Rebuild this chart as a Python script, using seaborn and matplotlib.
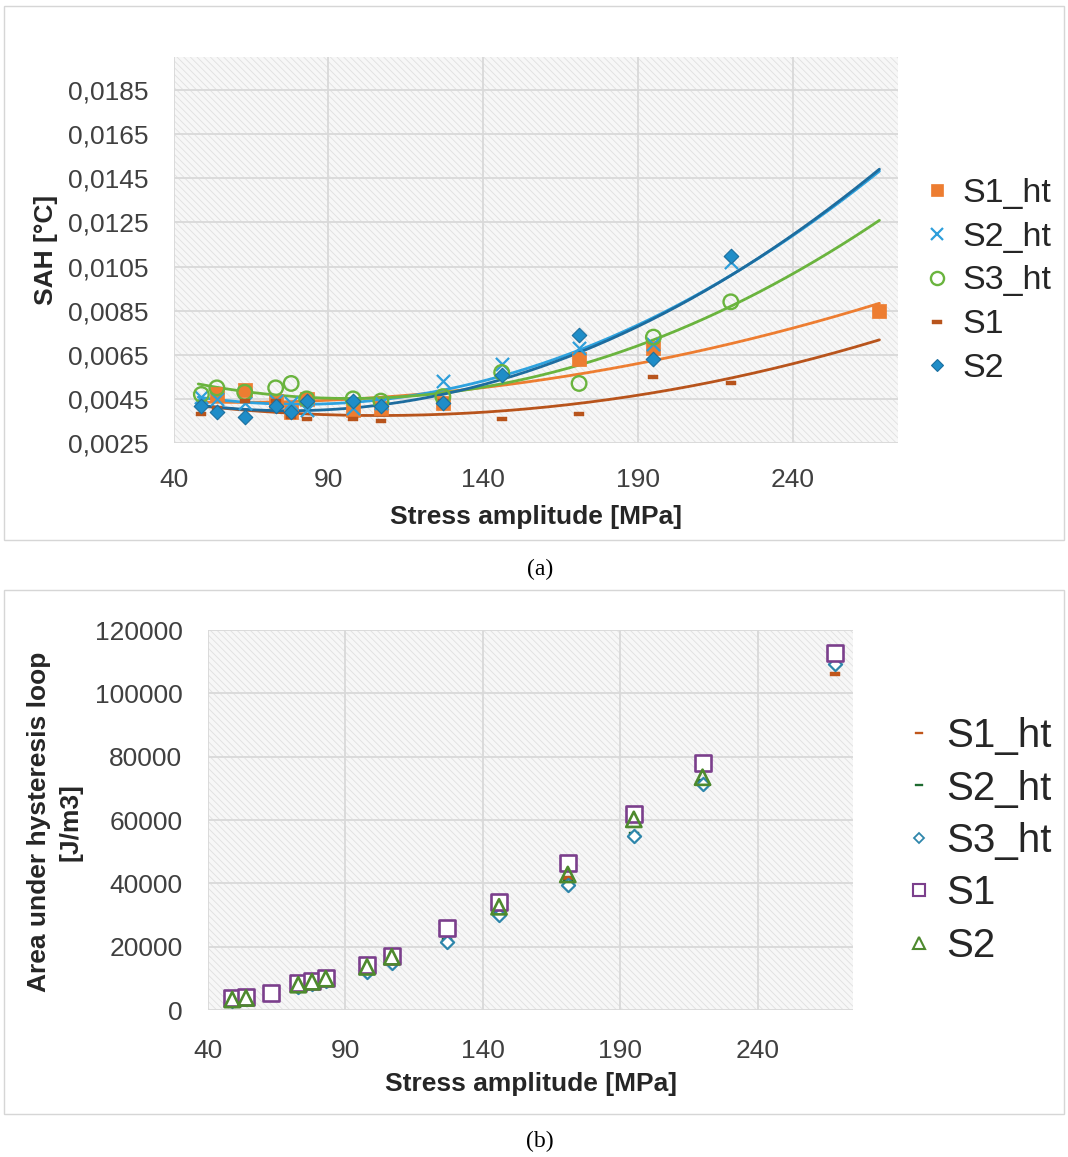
import numpy as np
import pandas as pd
import seaborn as sns
import matplotlib.pyplot as plt
from matplotlib.patches import Rectangle
from matplotlib.lines import Line2D

# ---- (a) SAH vs stress amplitude ----
a_s1ht_x = [54, 63, 73, 78, 83, 98, 107, 127, 171, 195, 268]
a_s1ht_y = [0.0047, 0.0049, 0.0044, 0.0039, 0.0045, 0.0040, 0.0041, 0.0043, 0.0063, 0.0068, 0.0085]
a_s2ht_x = [49, 54, 63, 73, 78, 83, 98, 107, 127, 146, 171, 195, 220]
a_s2ht_y = [0.0046, 0.0045, 0.0043, 0.0044, 0.0043, 0.0040, 0.0041, 0.0043, 0.0053, 0.0061, 0.0068, 0.0070, 0.0107]
a_s3ht_x = [49, 54, 63, 73, 78, 83, 98, 107, 127, 146, 171, 195, 220]
a_s3ht_y = [0.0047, 0.0050, 0.0048, 0.0050, 0.0052, 0.0045, 0.0045, 0.0044, 0.0046, 0.0057, 0.0052, 0.0073, 0.0089]
a_s1_x = [49, 54, 63, 73, 78, 83, 98, 107, 127, 146, 171, 195, 220]
a_s1_y = [0.0038, 0.0041, 0.0044, 0.0044, 0.0037, 0.0036, 0.0036, 0.0035, 0.0044, 0.0036, 0.0038, 0.0055, 0.0052]
a_s2_x = [49, 54, 63, 73, 78, 83, 98, 107, 127, 146, 171, 195, 220]
a_s2_y = [0.0042, 0.0039, 0.0037, 0.0042, 0.0039, 0.0044, 0.0044, 0.0042, 0.0043, 0.0056, 0.0074, 0.0063, 0.0110]

# ---- (b) area under hysteresis loop ----
b_s1ht_x = [98, 107, 127, 146, 171, 195, 220, 268]
b_s1ht_y = [12300, 15200, 21800, 30500, 41700, 54500, 72000, 106000]
b_s2ht_x = [73, 78, 83, 98, 107, 127, 146, 171, 195, 220]
b_s2ht_y = [7600, 8500, 9500, 12600, 15500, 22000, 30800, 40500, 55500, 72300]
b_s3ht_x = [49, 54, 73, 78, 83, 98, 107, 127, 146, 171, 195, 220, 268]
b_s3ht_y = [3000, 3500, 7300, 8200, 9200, 12000, 14900, 21500, 30100, 39600, 54800, 71500, 109200]
b_s1_x = [49, 54, 63, 73, 78, 83, 98, 107, 127, 146, 171, 195, 220, 268]
b_s1_y = [3700, 4200, 5500, 8400, 9200, 10000, 14200, 17100, 26000, 34000, 46500, 62000, 78000, 112700]
b_s2_x = [49, 54, 73, 78, 83, 98, 107, 146, 171, 195, 220]
b_s2_y = [3300, 3800, 8000, 8900, 9900, 13600, 16800, 32600, 42800, 60200, 73500]

a_ticks_y = [0.0025, 0.0045, 0.0065, 0.0085, 0.0105, 0.0125, 0.0145, 0.0165, 0.0185]
b_ticks_y = [0, 20000, 40000, 60000, 80000, 100000, 120000]
ticks_x = [40, 90, 140, 190, 240]

W, H = 1068, 1157
DASH = [(-1, -0.35), (1, -0.35), (1, 0.35), (-1, 0.35), (-1, -0.35)]

sns.set_theme(style="white")
plt.rcParams['font.family'] = ['Liberation Sans', 'DejaVu Sans']
plt.rcParams['hatch.linewidth'] = 0.6

fig = plt.figure(figsize=(W / 100, H / 100), dpi=100)


def px_axes(left, top, right, bottom):
    return fig.add_axes([left / W, 1 - bottom / H, (right - left) / W, (bottom - top) / H])


def style_axes(ax):
    ax.add_patch(Rectangle((0, 0), 1, 1, transform=ax.transAxes, facecolor='#f7f7f7',
                           edgecolor='#e0e0e0', hatch='\\' * 5, lw=0, zorder=0))
    ax.grid(True, color='#d9d9d9', lw=1.3, zorder=1)
    ax.set_axisbelow(True)
    for s in ax.spines.values():
        s.set_visible(False)
    ax.tick_params(length=0, labelsize=19, colors='#404040', pad=18)
    ax.set_xlabel('')
    ax.set_ylabel('')


def scatter(ax, x, y, marker, size, face, edge, lw, label):
    sns.scatterplot(x=x, y=y, marker=marker, s=size, color=edge, facecolor=face,
                    edgecolor=edge, linewidth=lw, ax=ax, label=label, zorder=3, legend=False)


# panel frames
for top, bottom in [(6, 540), (590, 1114)]:
    fig.add_artist(Rectangle((4 / W, 1 - bottom / H), 1060 / W, (bottom - top) / H,
                             transform=fig.transFigure, fill=False, edgecolor='#d6d6d6', lw=1))

# ---------- (a) ----------
ax1 = px_axes(173.5, 57, 898, 443)
style_axes(ax1)

a_series = [
    ('S1_ht', a_s1ht_x, a_s1ht_y, 's', 100, '#ED7D31', '#ED7D31', 0.5, '#ED7D31'),
    ('S2_ht', a_s2ht_x, a_s2ht_y, 'x', 90, '#2E9FDB', '#2E9FDB', 1.6, '#2EA2DE'),
    ('S3_ht', a_s3ht_x, a_s3ht_y, 'o', 110, 'none', '#6AB43E', 1.7, '#6AB43E'),
    ('S1', a_s1_x, a_s1_y, DASH, 55, '#B8541C', '#B8541C', 0.3, '#B8541C'),
    ('S2', a_s2_x, a_s2_y, 'D', 55, '#1F8DC8', '#1B6F9F', 0.8, '#1D6C9E'),
]
xs = np.linspace(48, 268, 200)
for name, x, y, m, s, fc, ec, lw, lc in a_series:
    scatter(ax1, x, y, m, s, fc, ec, lw, name)
    coef = np.polyfit(x, y, 2)
    sns.lineplot(x=xs, y=np.polyval(coef, xs), color=lc, lw=2, ax=ax1, zorder=2,
                 legend=False, estimator=None)

ax1.set_xlim(40, 274)
ax1.set_ylim(0.0025, 0.0200)
ax1.set_xticks(ticks_x)
ax1.set_yticks(a_ticks_y)
ax1.set_yticklabels([f"{v:.4f}".replace('.', ',') for v in a_ticks_y])
ax1.tick_params(axis='x', pad=18)

handles = [Line2D([], [], ls='', marker=m, markersize=np.sqrt(s) * (0.8 if m in ('D',) else 0.9),
                  markerfacecolor=fc, markeredgecolor=ec, markeredgewidth=lw)
           for name, x, y, m, s, fc, ec, lw, lc in a_series]
fig.legend(handles, [t[0] for t in a_series], loc='center left',
           bbox_to_anchor=(922 / W, 1 - 281 / H), frameon=False, fontsize=24.5,
           handlelength=0.9, handletextpad=0.3, labelspacing=0.38, borderpad=0,
           borderaxespad=0)

fig.text(536 / W, 1 - 517 / H, 'Stress amplitude [MPa]', ha='center', va='center',
         fontsize=19, fontweight='bold', color='#262626')
fig.text(46 / W, 1 - 250 / H, 'SAH [°C]', ha='center', va='center', rotation=90,
         fontsize=19, fontweight='bold', color='#262626')
fig.text(540 / W, 1 - 569 / H, '(a)', ha='center', va='center', fontsize=17,
         family='Liberation Serif', color='black')

# ---------- (b) ----------
ax2 = px_axes(207.5, 630, 853, 1010)
style_axes(ax2)

b_series = [
    ('S1_ht', b_s1ht_x, b_s1ht_y, DASH, 55, '#C0561B', '#C0561B', 0.3),
    ('S2_ht', b_s2ht_x, b_s2ht_y, DASH, 55, '#1E6B30', '#1E6B30', 0.3),
    ('S3_ht', b_s3ht_x, b_s3ht_y, 'D', 45, 'white', '#2E86AB', 1.6),
    ('S1', b_s1_x, b_s1_y, 's', 140, 'white', '#7B3F8C', 1.9),
    ('S2', b_s2_x, b_s2_y, '^', 120, 'none', '#4E8A2E', 1.9),
]
for name, x, y, m, s, fc, ec, lw in b_series:
    scatter(ax2, x, y, m, s, fc, ec, lw, name)

ax2.set_xlim(40, 274.7)
ax2.set_ylim(0, 120000)
ax2.set_xticks(ticks_x)
ax2.set_yticks(b_ticks_y)
ax2.set_yticklabels([str(v) for v in b_ticks_y])
ax2.tick_params(axis='x', pad=21)

handles = [Line2D([], [], ls='', marker=m, markersize=np.sqrt(s) * 0.75,
                  markerfacecolor=fc, markeredgecolor=ec, markeredgewidth=lw * 0.8)
           for name, x, y, m, s, fc, ec, lw in b_series]
fig.legend(handles, [t[0] for t in b_series], loc='center left',
           bbox_to_anchor=(904 / W, 1 - 841 / H), frameon=False, fontsize=29,
           handlelength=0.75, handletextpad=0.3, labelspacing=0.36, borderpad=0,
           borderaxespad=0)

fig.text(531 / W, 1 - 1084 / H, 'Stress amplitude [MPa]', ha='center', va='center',
         fontsize=19, fontweight='bold', color='#262626')
fig.text(55 / W, 1 - 822 / H, 'Area under hysteresis loop\n[J/m3]', ha='center', va='center',
         rotation=90, fontsize=19, fontweight='bold', color='#262626', linespacing=1.4)
fig.text(540 / W, 1 - 1141 / H, '(b)', ha='center', va='center', fontsize=17,
         family='Liberation Serif', color='black')

fig.savefig('out.png', dpi=100, facecolor='white')
